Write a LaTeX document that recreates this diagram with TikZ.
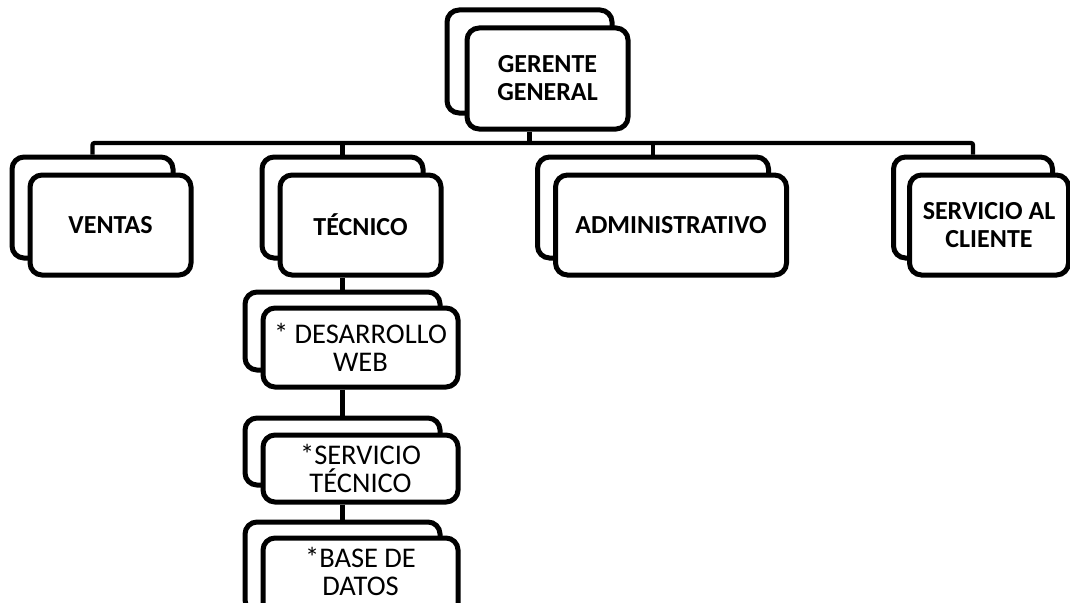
\documentclass[tikz,border=0pt]{standalone}
\usepackage{fontspec}
\setmainfont{Carlito}
\begin{document}
\begin{tikzpicture}[x=1pt,y=-1pt,
 box/.style={draw=black, line width=5pt, rounded corners=12pt, fill=white, inner sep=0pt, align=center, text=black},
 bt/.style={font=\fontsize{26}{28}\selectfont\bfseries},
 rt/.style={font=\fontsize{28.5}{28}\selectfont},
 conn/.style={draw=black, line width=4.2pt, rounded corners=2pt},
]
\clip (0,0) rectangle (1070,602);
\fill[white] (0,0) rectangle (1070,602);
% top
\node[box, minimum width=165pt, minimum height=103pt] (ggb) at (529.5,61.5) {};
\node[box, minimum width=161pt, minimum height=101pt, bt] (gg) at (547.5,78.5) {GERENTE\\GENERAL};
% second row
\node[box, minimum width=161pt, minimum height=101pt] (vb) at (92.5,207.5) {};
\node[box, minimum width=161pt, minimum height=100pt, bt] (v) at (110.5,225) {VENTAS};
\node[box, minimum width=161pt, minimum height=101pt] (tb) at (342.5,207.5) {};
\node[box, minimum width=161pt, minimum height=100pt, bt] (t) at (360.5,225) {TÉCNICO};
\node[box, minimum width=231pt, minimum height=101pt] (ab) at (653,207.5) {};
\node[box, minimum width=231pt, minimum height=100pt, bt] (a) at (671,225) {ADMINISTRATIVO};
\node[box, minimum width=159pt, minimum height=101pt] (sb) at (973,207.5) {};
\node[box, minimum width=159pt, minimum height=100pt, bt] (s) at (989,225) {SERVICIO AL\\CLIENTE};
% sub boxes
\node[box, minimum width=195pt, minimum height=78pt] (dwb) at (342.5,331) {};
\node[box, minimum width=195pt, minimum height=79pt, rt] (dw) at (360.5,347.5) {* DESARROLLO\\WEB};
\node[box, minimum width=195pt, minimum height=67pt] (stb) at (342.5,451.5) {};
\node[box, minimum width=195pt, minimum height=67pt, rt] (st) at (360.5,468.5) {*SERVICIO\\TÉCNICO};
\node[box, minimum width=195pt, minimum height=90pt] (bdb) at (342.5,567) {};
\node[box, minimum width=195pt, minimum height=90pt] (bd) at (360.5,583) {};
\node[rt, align=center, inner sep=0pt] (bdt) at (360.5,571) {*BASE DE\\DATOS};
% connectors
\coordinate (bar) at (0,143);
\draw[conn] (ggb.center |- gg.south) -- (ggb.center |- bar);
\draw[conn] (vb.north) -- (vb.north |- bar) -- (sb.north |- bar) -- (sb.north);
\draw[conn] (tb.north) -- (tb.north |- bar);
\draw[conn] (ab.north) -- (ab.north |- bar);
\draw[conn] (tb.center |- t.south) -- (dwb.north);
\draw[conn] (dwb.center |- dw.south) -- (stb.north);
\draw[conn] (stb.center |- st.south) -- (bdb.north);
\end{tikzpicture}
\end{document}
